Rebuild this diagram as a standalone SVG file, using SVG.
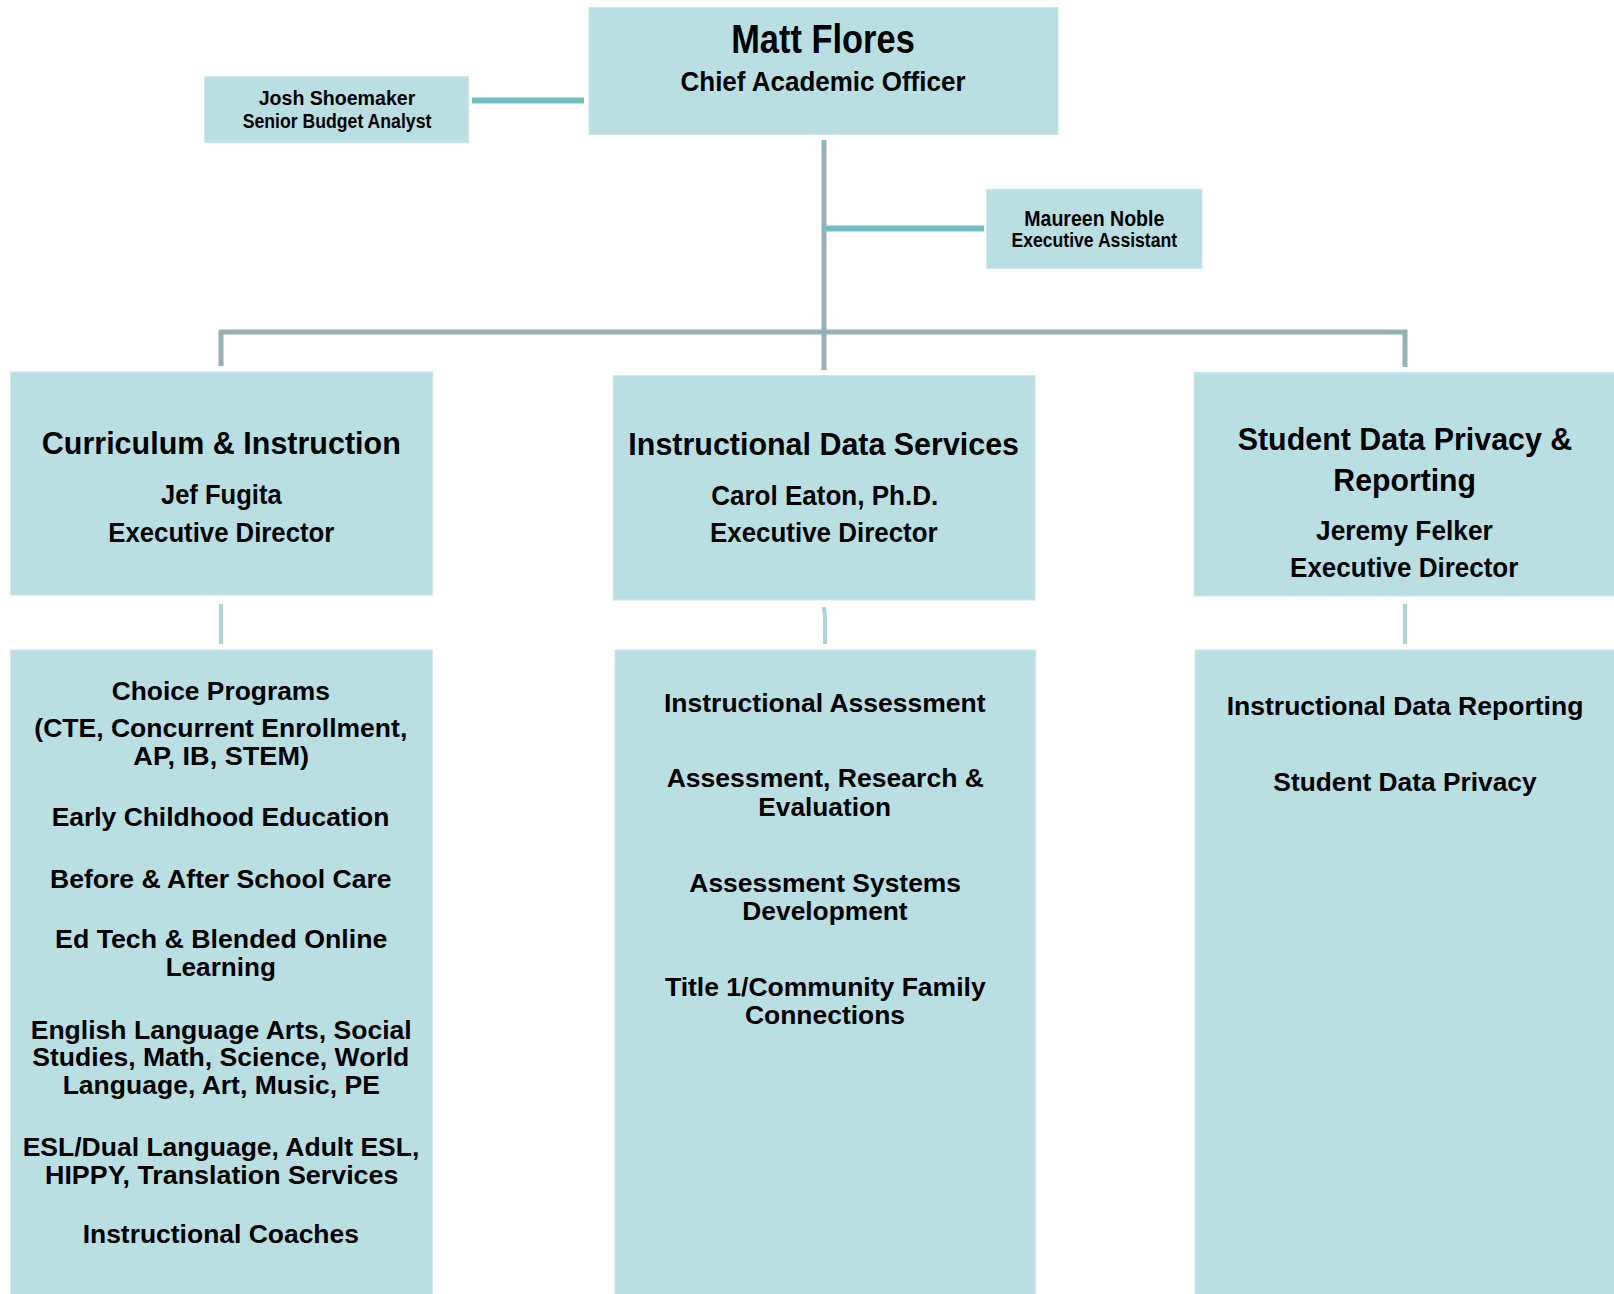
<svg xmlns="http://www.w3.org/2000/svg" width="1614" height="1294" viewBox="0 0 1614 1294">
<style>
.box{fill:#BADFE3;stroke:#CBE7EA;stroke-width:1}
.hd{font-family:"Liberation Sans Narrow","Liberation Sans",Arial,sans-serif;font-weight:bold;fill:#000;text-anchor:middle}
.li{font-family:"Liberation Sans",Arial,sans-serif;font-weight:bold;font-size:26px;fill:#000;text-anchor:middle}
.gray{stroke:#94B2B5;stroke-width:5;fill:none}
.teal{stroke:#72BFC4;stroke-width:6;fill:none}
.lite{stroke:#A9D5D9;stroke-width:4;fill:none}
</style>
<rect width="1614" height="1294" fill="#fff"/>
<g id="connectors">
<line class="teal" x1="472" y1="100.5" x2="584" y2="100.5"/>
<line class="gray" x1="824" y1="140" x2="824" y2="370"/>
<line class="teal" x1="824" y1="228.5" x2="984" y2="228.5"/>
<polyline class="gray" points="221,366 221,332 1405,332 1405,367"/>
<line class="lite" x1="221" y1="604" x2="221" y2="644"/>
<path class="lite" d="M823.5,607 Q825,612 825,618 L825,644"/>
<line class="lite" x1="1405" y1="604" x2="1405" y2="644"/>
</g>
<g id="matt">
<rect class="box" x="589" y="7.5" width="469" height="127"/>
<text class="hd" x="823" y="53.3" font-size="40" textLength="183.6" lengthAdjust="spacingAndGlyphs">Matt Flores</text>
<text class="hd" x="823" y="90.7" font-size="28" textLength="285" lengthAdjust="spacingAndGlyphs">Chief Academic Officer</text>
</g>
<g id="josh">
<rect class="box" x="204.7" y="76.7" width="264" height="66"/>
<text class="hd" x="337" y="105" font-size="20" textLength="156.6" lengthAdjust="spacingAndGlyphs">Josh Shoemaker</text>
<text class="hd" x="337" y="128.3" font-size="19.5" textLength="188.7" lengthAdjust="spacingAndGlyphs">Senior Budget Analyst</text>
</g>
<g id="maureen">
<rect class="box" x="986.7" y="189.3" width="215.3" height="79"/>
<text class="hd" x="1094.3" y="225.7" font-size="22" textLength="140" lengthAdjust="spacingAndGlyphs">Maureen Noble</text>
<text class="hd" x="1094.3" y="247.3" font-size="19.5" textLength="165.7" lengthAdjust="spacingAndGlyphs">Executive Assistant</text>
</g>
<g id="ci">
<rect class="box" x="10.7" y="372" width="422" height="223"/>
<text class="hd" x="221.3" y="454.3" font-size="31.5" textLength="359" lengthAdjust="spacingAndGlyphs">Curriculum &amp; Instruction</text>
<text class="hd" x="221.3" y="504.3" font-size="27" textLength="120.7" lengthAdjust="spacingAndGlyphs">Jef Fugita</text>
<text class="hd" x="221.3" y="541.7" font-size="27" textLength="226" lengthAdjust="spacingAndGlyphs">Executive Director</text>
</g>
<g id="ids">
<rect class="box" x="613.3" y="375.7" width="421.7" height="224.3"/>
<text class="hd" x="823.7" y="455" font-size="31.5" textLength="390.7" lengthAdjust="spacingAndGlyphs">Instructional Data Services</text>
<text class="hd" x="824.7" y="505" font-size="27" textLength="227" lengthAdjust="spacingAndGlyphs">Carol Eaton, Ph.D.</text>
<text class="hd" x="823.8" y="542.3" font-size="27" textLength="227.7" lengthAdjust="spacingAndGlyphs">Executive Director</text>
</g>
<g id="sdpr">
<rect class="box" x="1194" y="372.3" width="421" height="223.7"/>
<text class="hd" x="1405" y="450" font-size="31.5" textLength="334.7" lengthAdjust="spacingAndGlyphs">Student Data Privacy &amp;</text>
<text class="hd" x="1404.7" y="490.7" font-size="31.5" textLength="142.7" lengthAdjust="spacingAndGlyphs">Reporting</text>
<text class="hd" x="1404.4" y="540" font-size="27" textLength="176.7" lengthAdjust="spacingAndGlyphs">Jeremy Felker</text>
<text class="hd" x="1404.2" y="577.3" font-size="27" textLength="228.3" lengthAdjust="spacingAndGlyphs">Executive Director</text>
</g>
<g id="ci-list">
<rect class="box" x="10.7" y="650" width="421.6" height="650"/>
<text class="li" x="220.8" y="700" textLength="218.3" lengthAdjust="spacingAndGlyphs">Choice Programs</text>
<text class="li" x="220.8" y="737" textLength="373" lengthAdjust="spacingAndGlyphs">(CTE, Concurrent Enrollment,</text>
<text class="li" x="221.2" y="765" textLength="175.7" lengthAdjust="spacingAndGlyphs">AP, IB, STEM)</text>
<text class="li" x="220.5" y="826" textLength="337.7" lengthAdjust="spacingAndGlyphs">Early Childhood Education</text>
<text class="li" x="220.8" y="888.3" textLength="341.7" lengthAdjust="spacingAndGlyphs">Before &amp; After School Care</text>
<text class="li" x="221.2" y="948" textLength="332.3" lengthAdjust="spacingAndGlyphs">Ed Tech &amp; Blended Online</text>
<text class="li" x="220.8" y="976" textLength="110.3" lengthAdjust="spacingAndGlyphs">Learning</text>
<text class="li" x="221.2" y="1038.8" textLength="381" lengthAdjust="spacingAndGlyphs">English Language Arts, Social</text>
<text class="li" x="220.8" y="1066.3" textLength="377" lengthAdjust="spacingAndGlyphs">Studies, Math, Science, World</text>
<text class="li" x="221.3" y="1093.8" textLength="317.3" lengthAdjust="spacingAndGlyphs">Language, Art, Music, PE</text>
<text class="li" x="221" y="1156" textLength="396.7" lengthAdjust="spacingAndGlyphs">ESL/Dual Language, Adult ESL,</text>
<text class="li" x="221.7" y="1183.5" textLength="353.3" lengthAdjust="spacingAndGlyphs">HIPPY, Translation Services</text>
<text class="li" x="220.8" y="1243.3" textLength="276.3" lengthAdjust="spacingAndGlyphs">Instructional Coaches</text>
</g>
<g id="ids-list">
<rect class="box" x="615" y="650" width="420.7" height="650"/>
<text class="li" x="824.8" y="712.3" textLength="321.7" lengthAdjust="spacingAndGlyphs">Instructional Assessment</text>
<text class="li" x="825.3" y="787.3" textLength="317.3" lengthAdjust="spacingAndGlyphs">Assessment, Research &amp;</text>
<text class="li" x="824.7" y="815.7" textLength="132.7" lengthAdjust="spacingAndGlyphs">Evaluation</text>
<text class="li" x="825.2" y="892" textLength="271.7" lengthAdjust="spacingAndGlyphs">Assessment Systems</text>
<text class="li" x="825" y="919.5" textLength="165.3" lengthAdjust="spacingAndGlyphs">Development</text>
<text class="li" x="825.3" y="996.2" textLength="320.7" lengthAdjust="spacingAndGlyphs">Title 1/Community Family</text>
<text class="li" x="825" y="1023.7" textLength="160" lengthAdjust="spacingAndGlyphs">Connections</text>
</g>
<g id="sdpr-list">
<rect class="box" x="1195" y="650" width="420" height="650"/>
<text class="li" x="1405" y="715" textLength="356.7" lengthAdjust="spacingAndGlyphs">Instructional Data Reporting</text>
<text class="li" x="1405" y="790.7" textLength="263.3" lengthAdjust="spacingAndGlyphs">Student Data Privacy</text>
</g>
</svg>
